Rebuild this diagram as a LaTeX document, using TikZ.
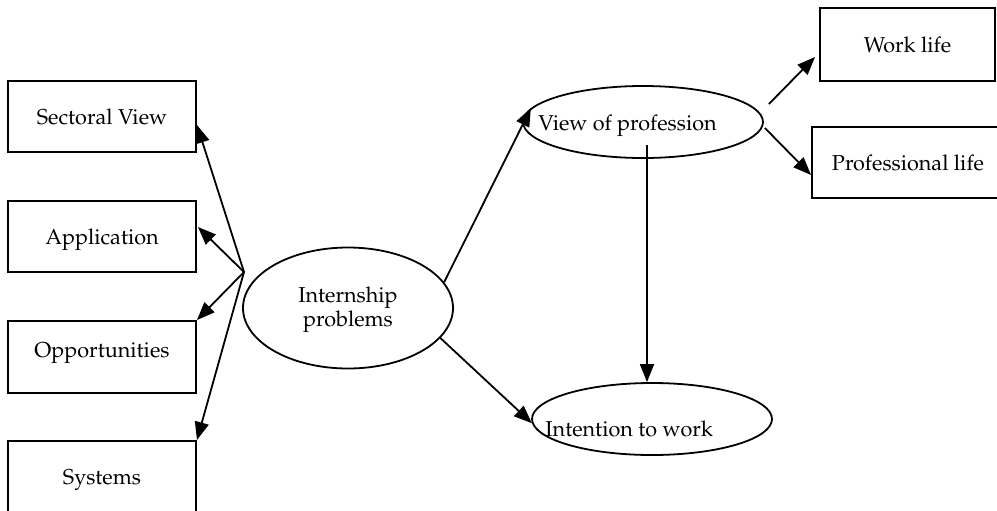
\documentclass[tikz,border=0pt]{standalone}
\usepackage[T1]{fontenc}
\usepackage{mathpazo}
\usetikzlibrary{shapes.geometric,arrows.meta,calc}
\begin{document}
\begin{tikzpicture}[x=0.5pt,y=-0.5pt,
  every node/.style={font=\fontsize{10.8}{12}\selectfont},
  box/.style={draw,line width=0.95pt,inner sep=0pt,align=center,text height=0.79em,text depth=0pt},
  oval/.style={draw,ellipse,line width=0.9pt,inner sep=0pt},
  lbl/.style={inner sep=0pt,align=center},
  arr/.style={line width=0.9pt,-{Triangle[length=9pt,width=7pt]}}]
\useasboundingbox (0,0) rectangle (997,510);
\clip (0,0) rectangle (997,510);
% left boxes
\node[box,minimum width=94pt,minimum height=35.5pt] (sv) at (102,116.5) {Sectoral View};
\node[box,minimum width=94pt,minimum height=35.5pt,text height=0.8em,text depth=-0.12em] (ap) at (102,236.5) {Application};
\node[box,minimum width=94pt,minimum height=36pt,text depth=0.79em] (op) at (102,357) {Opportunities};
\node[box,minimum width=94pt,minimum height=36pt] (sy) at (102,477) {Systems};
% right boxes
\node[box,minimum width=87.5pt,minimum height=36.5pt] (wl) at (907.5,44.5) {Work life};
\node[box,minimum width=96pt,minimum height=35.5pt] (pl) at (908,162.5) {Professional life};
% ellipses
\node[oval,minimum width=105pt,minimum height=60.5pt] (ip) at (348,308) {};
\node[lbl] (ipt) at (348,310) {Internship\\problems};
\node[oval,minimum width=120pt,minimum height=36pt] (vp) at (643,122) {};
\node[lbl,anchor=base west] (vpt) at (538,130) {View of profession};
\node[oval,minimum width=120pt,minimum height=36pt] (iw) at (652,419) {};
\node[lbl,anchor=base west] (iwt) at (545,436) {Intention to work};
% hub
\coordinate (hub) at (244,272);
\draw[arr] (hub) -- ($(sv.east)+(0,8.5)$);
\draw[arr] (hub) -- ($(ap.east)+(1,-9.5)$);
\draw[arr] (hub) -- (op.north east);
\draw[arr] (hub) -- (sy.north east);
% from internship
\draw[arr] (ip.15.5) -- (vp.173);
\draw[arr] (ip.-18) -- (iw.182);
% from view of profession
\coordinate (vs) at ($(vp.center)+(4,23)$);
\draw[arr] (vs) -- (vs |- iw.north);
\coordinate (ws) at ($(vp.east)+(5,-18)$);
\draw[arr] (ws) -- ($(wl.west)+(-4,12.5)$);
\coordinate (ps) at ($(vp.east)+(1,6)$);
\draw[arr] (ps) -- ($(pl.west)+(0,12.5)$);
\end{tikzpicture}
\end{document}
